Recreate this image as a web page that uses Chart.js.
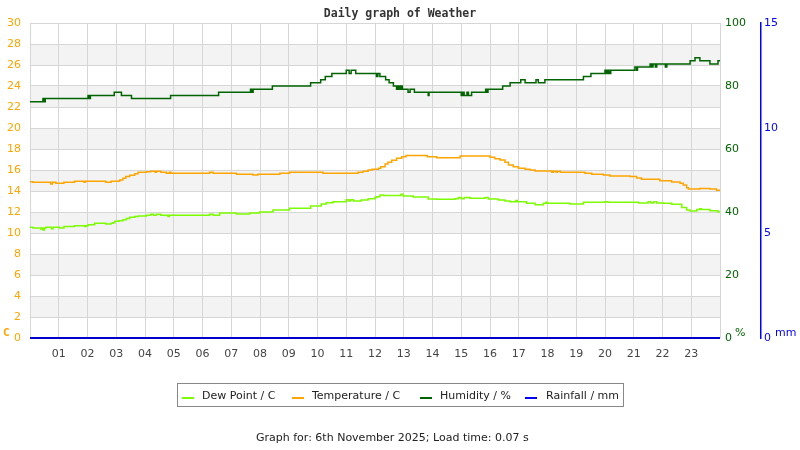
<!DOCTYPE html>
<html><head><meta charset="utf-8">
<script src="https://cdn.jsdelivr.net/npm/chart.js@4/dist/chart.umd.min.js"></script>
<style>
html,body{margin:0;padding:0;background:#fff;}
#wrap{position:relative;width:800px;height:450px;overflow:hidden;font-family:"DejaVu Sans",sans-serif;}
#c{position:absolute;left:0;top:0;}
.t{position:absolute;white-space:nowrap;line-height:14px;font-size:11px;}
#title{left:0;width:800px;top:6px;text-align:center;font:bold 11.5px/14px "DejaVu Sans Mono",monospace;color:#333;}
#legend{position:absolute;left:177px;top:383px;width:445px;height:22px;border:1px solid #888;}
.mk{position:absolute;width:12px;height:2px;top:397px;}
</style></head>
<body><div id="wrap">
<canvas id="c" width="800" height="450"></canvas>
<div id="title" class="t">Daily graph of Weather</div>
<div class="t" style="left:3px;top:326px;font:bold 11px/14px 'DejaVu Sans Mono',monospace;color:#ffa500;">C</div>
<div class="t" style="left:735px;top:326px;color:#006400;">%</div>
<div class="t" style="left:775px;top:326px;color:#0000ff;">mm</div>
<div id="legend"></div>
<div class="mk" style="left:182px;background:#7cfc00;"></div>
<div class="t" style="left:202px;top:389px;color:#222;">Dew Point / C</div>
<div class="mk" style="left:292px;background:#ffa500;"></div>
<div class="t" style="left:312px;top:389px;color:#222;">Temperature / C</div>
<div class="mk" style="left:420px;background:#006400;"></div>
<div class="t" style="left:440px;top:389px;color:#222;">Humidity / %</div>
<div class="mk" style="left:525px;background:#0000ff;"></div>
<div class="t" style="left:546px;top:389px;color:#222;">Rainfall / mm</div>
<div class="t" style="left:256px;top:431px;color:#222;">Graph for: 6th November 2025; Load time: 0.07 s</div>
</div>
<script>
const hourLabels = ['01','02','03','04','05','06','07','08','09','10','11','12','13','14','15','16','17','18','19','20','21','22','23'];
const tempTicksMax = 30, humTicksMax = 100, rainTicksMax = 15;

const humTimes = [0,0.45,0.5,0.53,2.02,2.07,2.1,2.93,3.18,3.53,4.89,6.56,7.67,7.72,7.76,8.43,9.76,10.11,10.27,10.5,11.0,11.1,11.17,11.33,12.05,12.1,12.17,12.37,12.49,12.64,12.75,12.8,12.85,12.9,12.95,13.15,13.22,13.37,13.85,13.88,15.0,15.05,15.1,15.2,15.25,15.36,15.85,15.9,15.93,16.44,16.7,17.07,17.22,17.6,17.68,17.91,19.25,19.51,20.0,20.05,20.1,20.15,20.2,21.04,21.1,21.13,21.57,21.62,21.67,21.75,21.8,22.1,22.15,22.96,23.13,23.3,23.65,23.93,24];
const humValues = [75,76,75,76,77,76,77,78,77,76,77,78,79,78,79,80,81,82,83,84,85,84,85,84,83,84,83,82,81,80,79,80,79,80,79,78,79,78,77,78,77,78,77,78,77,78,79,78,79,80,81,82,81,82,81,82,83,84,85,84,85,84,85,86,85,86,87,86,87,86,87,86,87,88,89,88,87,88,88];

const tempTimes = [0,0.1,0.72,0.78,0.9,1.18,1.55,1.88,1.93,2.64,2.82,3.12,3.23,3.33,3.47,3.64,3.76,4.05,4.2,4.35,4.4,4.55,4.74,4.85,4.9,6.25,6.37,7.18,7.76,7.93,8.69,9.03,10.19,11.41,11.58,11.76,11.9,12.12,12.2,12.35,12.45,12.58,12.75,12.93,13.08,13.82,14.15,14.96,16.0,16.17,16.35,16.52,16.64,16.81,16.99,17.22,17.39,17.57,18.15,18.2,18.3,18.35,18.45,19.3,19.54,19.94,20.17,20.87,21.1,21.27,21.91,22.32,22.61,22.72,22.84,22.9,23.3,23.65,23.88,24];
const tempValues = [14.89,14.83,14.67,14.83,14.73,14.83,14.92,14.83,14.92,14.83,14.92,15.05,15.21,15.37,15.5,15.65,15.78,15.84,15.87,15.78,15.87,15.78,15.68,15.78,15.68,15.78,15.68,15.59,15.52,15.59,15.68,15.78,15.68,15.78,15.87,16.0,16.06,16.16,16.32,16.57,16.73,16.92,17.11,17.27,17.37,17.27,17.17,17.33,17.21,17.08,16.95,16.73,16.48,16.32,16.16,16.06,16.0,15.9,15.78,15.87,15.78,15.87,15.78,15.68,15.59,15.52,15.43,15.37,15.24,15.11,14.98,14.86,14.73,14.57,14.32,14.19,14.25,14.19,14.06,14.06];

const dewTimes = [0,0.1,0.38,0.42,0.45,0.5,0.55,0.74,0.8,1.03,1.18,1.55,1.9,1.95,2.02,2.25,2.64,2.82,2.89,2.95,3.1,3.23,3.35,3.47,3.64,3.76,4.05,4.2,4.3,4.4,4.55,4.8,4.85,6.25,6.37,6.6,7.18,7.64,7.99,8.45,9.03,9.76,10.13,10.3,10.54,11.0,11.08,11.15,11.25,11.35,11.52,11.76,12.0,12.05,12.17,12.2,12.3,12.9,12.98,13.33,13.85,14.15,14.78,14.9,15.0,15.1,15.3,15.83,15.94,16.29,16.52,16.7,16.9,16.95,17.27,17.57,17.86,17.95,18.0,18.78,19.25,20.0,20.1,20.2,21.16,21.5,21.6,21.7,21.8,22.03,22.32,22.67,22.84,22.96,23.19,23.3,23.35,23.65,23.93,24];
const dewValues = [10.54,10.48,10.35,10.48,10.29,10.48,10.54,10.41,10.54,10.48,10.63,10.70,10.63,10.70,10.79,10.92,10.86,10.92,10.98,11.11,11.17,11.27,11.37,11.49,11.56,11.62,11.68,11.78,11.68,11.78,11.68,11.56,11.68,11.78,11.68,11.90,11.81,11.90,12.0,12.19,12.35,12.57,12.76,12.89,12.98,13.17,13.05,13.17,13.05,13.05,13.14,13.27,13.37,13.46,13.59,13.62,13.56,13.68,13.52,13.43,13.24,13.21,13.27,13.37,13.27,13.37,13.30,13.37,13.24,13.14,13.05,12.98,13.1,12.98,12.83,12.70,12.83,12.92,12.83,12.76,12.92,12.98,12.92,12.92,12.86,12.98,12.86,12.98,12.86,12.83,12.73,12.44,12.19,12.10,12.25,12.32,12.25,12.13,12.0,12.0];

const rainTimes = [0,24];
const rainValues = [0,0];

const pts = (ts, vs) => ts.map((t,i)=>({x:t,y:vs[i]}));
const GRID = '#d6d6d6';

const bandPlugin = {
  id:'bands',
  beforeDraw(chart){
    const {ctx, chartArea:a, scales:{y}} = chart;
    ctx.save();
    ctx.fillStyle = '#f3f3f3';
    for (let v = 2; v < tempTicksMax; v += 4) {
      const top = y.getPixelForValue(v+2), bot = y.getPixelForValue(v);
      ctx.fillRect(a.left, top, a.right-a.left, bot-top);
    }
    ctx.restore();
  }
};

new Chart(document.getElementById('c'), {
  type:'line',
  data:{datasets:[
    {label:'Dew Point / C', data:pts(dewTimes,dewValues), borderColor:'#7cfc00', yAxisID:'y', stepped:true, borderWidth:1.5, pointRadius:0},
    {label:'Temperature / C', data:pts(tempTimes,tempValues), borderColor:'#ffa500', yAxisID:'y', stepped:true, borderWidth:1.5, pointRadius:0},
    {label:'Humidity / %', data:pts(humTimes,humValues), borderColor:'#006400', yAxisID:'yH', stepped:true, borderWidth:1.5, pointRadius:0},
    {label:'Rainfall / mm', data:pts(rainTimes,rainValues), borderColor:'#0000cc', yAxisID:'yR', stepped:true, borderWidth:2, pointRadius:0, clip:false}
  ]},
  options:{
    responsive:false, animation:false, devicePixelRatio:1,
    layout:{padding:{top:23,bottom:82,left:0,right:0}},
    plugins:{legend:{display:false}, tooltip:{enabled:false}, title:{display:false}},
    scales:{
      x:{type:'linear', min:0, max:24,
        ticks:{stepSize:1, autoSkip:false, maxRotation:0, padding:10, color:'#444', font:{family:'DejaVu Sans', size:11},
          callback:(v)=> (v>=1 && v<=hourLabels.length) ? hourLabels[v-1] : ''},
        grid:{color:GRID, drawTicks:false}, border:{display:false},
        afterFit:(s)=>{s.height=30;}},
      y:{position:'left', min:0, max:tempTicksMax,
        ticks:{stepSize:2, padding:9, color:'#ffa500', font:{family:'DejaVu Sans', size:11}},
        grid:{color:GRID, drawTicks:false}, border:{color:GRID},
        afterFit:(s)=>{s.width=30;}},
      yH:{position:'right', min:0, max:humTicksMax, weight:0,
        ticks:{stepSize:20, padding:5, color:'#006400', font:{family:'DejaVu Sans', size:11}},
        grid:{display:false, drawTicks:false}, border:{display:false},
        afterFit:(s)=>{s.width=41;}},
      yR:{position:'right', min:0, max:rainTicksMax, weight:0,
        ticks:{stepSize:5, padding:3, color:'#0000ff', font:{family:'DejaVu Sans', size:11}},
        grid:{display:false, drawTicks:false}, border:{display:true, color:'#0000ff', width:1.5},
        afterFit:(s)=>{s.width=39;}}
    }
  },
  plugins:[bandPlugin]
});
</script>
</body></html>
